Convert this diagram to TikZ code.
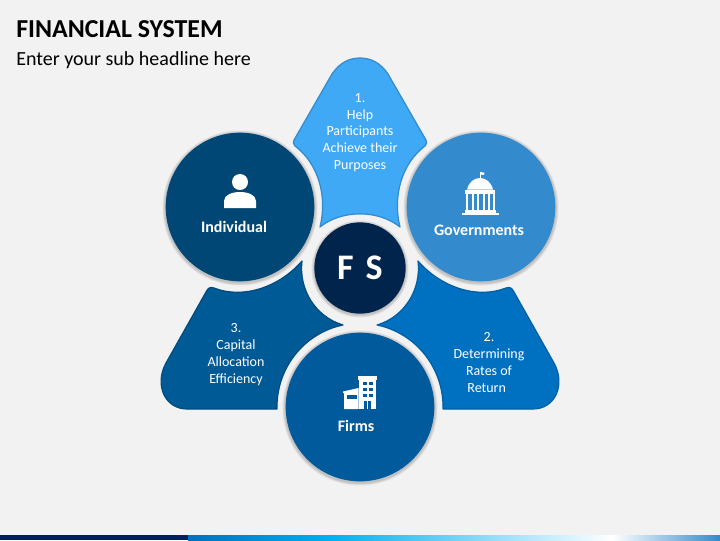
\documentclass[tikz,border=0pt]{standalone}
\usepackage{fontspec}
\setmainfont{Carlito}
\usetikzlibrary{positioning}
\definecolor{pagebg}{HTML}{F2F2F2}
\definecolor{indcol}{HTML}{004775}
\definecolor{govcol}{HTML}{338ACC}
\definecolor{firmcol}{HTML}{005A9C}
\definecolor{corecol}{HTML}{00244B}
\definecolor{helpcol}{HTML}{3FA9F5}
\definecolor{ratecol}{HTML}{0070C0}
\definecolor{capcol}{HTML}{005A96}
\definecolor{barcol}{HTML}{002060}
\definecolor{skycol}{HTML}{00B0F0}
\begin{document}
\begin{tikzpicture}[
    x=0.75pt, y=-0.75pt,
    disc/.style={circle, inner sep=0pt, minimum size=111.5pt},
    petal/.style={line width=0.9pt, line join=round},
    petaltext/.style={text=white, align=center, inner sep=0pt, font=\fontsize{10.5}{12.6}\selectfont},
    disctext/.style={text=white, inner sep=0pt, font=\fontsize{12}{14}\selectfont\bfseries},
    icon/.style={fill=white, draw=none}
]
    \useasboundingbox (0,0) rectangle (720,540);
    \fill[pagebg] (0,0) rectangle (720,540);

    % bottom bar
    \fill[barcol] (0,535) rectangle (188,540);
    \shade[left color=ratecol, right color=skycol, draw=none] (188,535) rectangle (330,540);
    \shade[left color=skycol, right color=white, draw=none] (330,535) rectangle (612,540);
    \shade[left color=white, right color=govcol, draw=none] (612,535) rectangle (720,540);

    % headline
    \node (title) [anchor=west, inner sep=0pt, font=\fontsize{19.4}{22}\selectfont\bfseries] at (16,29) {FINANCIAL SYSTEM};
    \node (subtitle) [anchor=west, inner sep=0pt, font=\fontsize{15}{18}\selectfont] at (16,60) {Enter your sub headline here};

    % petals
    \path[petal, fill=helpcol, draw=govcol] (320,227)
        .. controls (327.6,196.5) and (318.4,163.6) .. (295,146)
        .. controls (293,144) and (293,142) .. (294,140)
        -- (332,74) .. controls (340,62) and (350,58) .. (360,58)
        .. controls (370,58) and (380,62) .. (388,74)
        -- (426,140) .. controls (427,142) and (427,144) .. (425,146)
        .. controls (401.6,163.6) and (392.4,196.5) .. (400,227)
        .. controls (378,209.5) and (342,209.5) .. cycle;
    \path[petal, fill=capcol, draw=capcol!85!black] (302,261)
        .. controls (279.5,286.9) and (243.4,299.5) .. (214,288)
        .. controls (210,286.5) and (208,288) .. (206,292)
        -- (166,363) .. controls (154,385) and (165,409) .. (187,409)
        -- (277,409) .. controls (276,369) and (303.4,333.2) .. (343,325)
        .. controls (315.2,316.7) and (298.6,289.2) .. cycle;
    \path[petal, fill=ratecol, draw=ratecol!85!black] (418,261)
        .. controls (440.5,286.9) and (476.6,299.5) .. (506,288)
        .. controls (510,286.5) and (512,288) .. (514,292)
        -- (554,363) .. controls (566,385) and (555,409) .. (533,409)
        -- (443,409) .. controls (444,369) and (416.6,333.2) .. (377,325)
        .. controls (404.8,316.7) and (421.4,289.2) .. cycle;

    % soft edge round the discs
    \foreach \cx/\cy/\cr in {240/207/75, 481/207/75, 360/407/75, 360/268/46} {
        \foreach \d in {3,2,1} {
            \fill[black, opacity=0.07] (\cx,\cy+1) circle (\cr+\d-0.5);
        }
    }

    \node (individual) [disc, fill=indcol] at (240,207) {};
    \node (governments) [disc, fill=govcol] at (481,207) {};
    \node (firms) [disc, fill=firmcol] at (360,407) {};
    \node (core) [disc, fill=corecol, minimum size=68.5pt, text=white, font=\fontsize{27}{30}\selectfont\bfseries] at (360,268) {F\,\,S};

    % person
    \fill[icon] (240,182) circle (8);
    \fill[icon] (224,208) -- (224,201) .. controls (224,195) and (232,192) .. (240,192)
        .. controls (248,192) and (256,195) .. (256,201) -- (256,208) -- cycle;

    % capitol
    \fill[icon] (480,172) rectangle (480.6,179);
    \fill[icon] (480.6,172) -- (484.5,172.7) -- (484,175) -- (480.6,174.5) -- cycle;
    \fill[icon] (467,189.5) .. controls (469,182) and (474,178) .. (480,178)
        .. controls (486,178) and (491,182) .. (493,189.5) -- cycle;
    \fill[icon] (465,190) rectangle (495,194);
    \foreach \colx in {466,471.5,477,482.5,488,493} {
        \fill[icon] (\colx,194) rectangle (\colx+2.2,210);
    }
    \fill[icon] (464.5,209.5) rectangle (495.5,212.5);
    \fill[icon] (462,212.5) rectangle (498.5,215);

    % office block
    \fill[icon] (358,376) rectangle (377,379.5);
    \fill[icon] (359,379.5) rectangle (376,409);
    \fill[icon] (343,391.5) -- (358.5,388) -- (358.5,409) -- (344,409) -- (344,393) -- (343,393) -- cycle;
    \fill[firmcol] (347,395) rectangle (357,399);
    \foreach \winx in {363,369} {
        \foreach \winy in {382,388,394} {
            \fill[firmcol] (\winx,\winy) rectangle (\winx+3.5,\winy+3.2);
        }
    }
    \fill[firmcol] (364,401) rectangle (371,409);
    \fill[icon] (367,401) rectangle (368,409);

    % labels
    \node (individualtext) [disctext] at (234,227) {Individual};
    \node (governmentstext) [disctext] at (479,230) {Governments};
    \node (firmstext) [disctext] at (356,426) {Firms};
    \node (helptext) [petaltext] at (360,132.5) {1.\\Help\\Participants\\Achieve their\\Purposes};
    \node (ratetext) [petaltext] at (489,362.5) {2.\\Determining\\Rates of\\Return\,\,};
    \node (captext) [petaltext] at (236,354.5) {3.\\Capital\\Allocation\\Efficiency};
\end{tikzpicture}
\end{document}
